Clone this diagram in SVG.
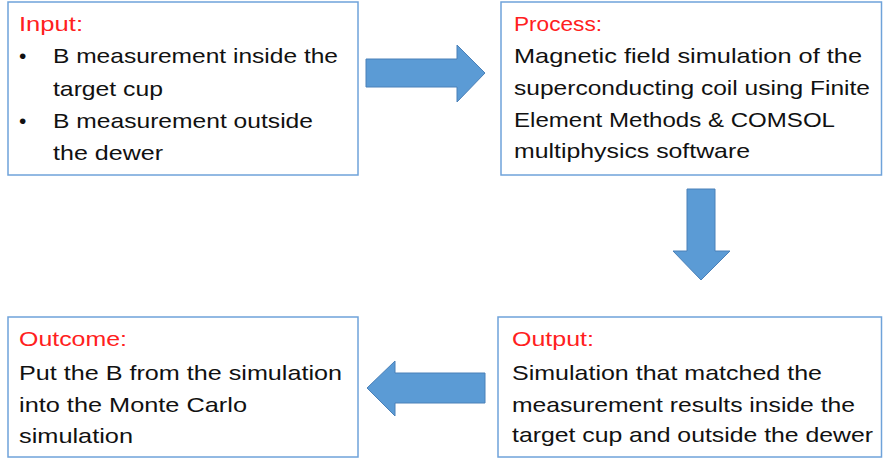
<svg xmlns="http://www.w3.org/2000/svg" width="883" height="462" viewBox="0 0 883 462">
<style>
.box{fill:#fff;stroke:#6FA3DA;stroke-width:1.5}
.t{font-family:"Liberation Sans",Arial,sans-serif;font-size:21px;fill:#111}
.h{font-family:"Liberation Sans",Arial,sans-serif;font-size:21px;fill:#FF2020}
.arr{fill:#5B9BD5;stroke:#4A80B8;stroke-width:1}
</style>
<rect width="883" height="462" fill="#fff"/>
<g id="input">
<rect class="box" x="8" y="2" width="350" height="173"/>
<text class="h" x="19" y="31" textLength="64" lengthAdjust="spacingAndGlyphs">Input:</text>
<text class="t" x="19" y="63">•</text>
<text class="t" x="53" y="63" textLength="285" lengthAdjust="spacingAndGlyphs">B measurement inside the</text>
<text class="t" x="53" y="96" textLength="110" lengthAdjust="spacingAndGlyphs">target cup</text>
<text class="t" x="19" y="128">•</text>
<text class="t" x="53" y="128" textLength="260" lengthAdjust="spacingAndGlyphs">B measurement outside</text>
<text class="t" x="53" y="160" textLength="110" lengthAdjust="spacingAndGlyphs">the dewer</text>
</g>
<g id="process">
<rect class="box" x="501" y="2" width="380.5" height="173"/>
<text class="h" x="514" y="31" textLength="88" lengthAdjust="spacingAndGlyphs">Process:</text>
<text class="t" x="514" y="63" textLength="348" lengthAdjust="spacingAndGlyphs">Magnetic field simulation of the</text>
<text class="t" x="514" y="95" textLength="356" lengthAdjust="spacingAndGlyphs">superconducting coil using Finite</text>
<text class="t" x="514" y="127" textLength="321" lengthAdjust="spacingAndGlyphs">Element Methods &amp; COMSOL</text>
<text class="t" x="514" y="158" textLength="236" lengthAdjust="spacingAndGlyphs">multiphysics software</text>
</g>
<g id="output">
<rect class="box" x="498" y="317" width="383.5" height="140"/>
<text class="h" x="512" y="346" textLength="82" lengthAdjust="spacingAndGlyphs">Output:</text>
<text class="t" x="512" y="380" textLength="310" lengthAdjust="spacingAndGlyphs">Simulation that matched the</text>
<text class="t" x="512" y="412" textLength="343" lengthAdjust="spacingAndGlyphs">measurement results inside the</text>
<text class="t" x="512" y="442" textLength="361" lengthAdjust="spacingAndGlyphs">target cup and outside the dewer</text>
</g>
<g id="outcome">
<rect class="box" x="8" y="317" width="350" height="140"/>
<text class="h" x="19" y="346" textLength="108" lengthAdjust="spacingAndGlyphs">Outcome:</text>
<text class="t" x="19" y="380" textLength="323" lengthAdjust="spacingAndGlyphs">Put the B from the simulation</text>
<text class="t" x="19" y="412" textLength="228" lengthAdjust="spacingAndGlyphs">into the Monte Carlo</text>
<text class="t" x="19" y="443" textLength="114" lengthAdjust="spacingAndGlyphs">simulation</text>
</g>
<g id="connectors">
<polygon class="arr" points="366,59 457,59 457,45 485,73 457,102 457,87 366,87"/>
<polygon class="arr" points="687,189 715,189 715,251 730,251 701,280 673,251 687,251"/>
<polygon class="arr" points="485,373 395,373 395,361 367,388 395,416 395,403 485,403"/>
</g>
</svg>
